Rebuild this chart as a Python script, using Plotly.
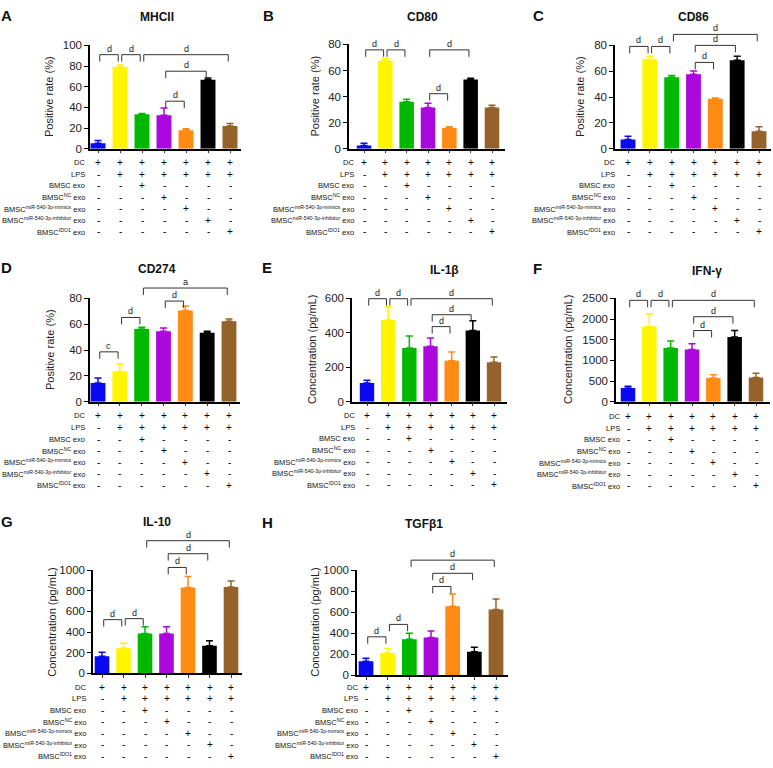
import plotly.graph_objects as go

W, H = 773, 768

# ---------------- data ----------------
bar_colors = ["#0A0AF0", "#FFF500", "#00B800", "#AA08DC", "#FF8A14", "#000000", "#94622A"]

row_labels = [
    "DC",
    "LPS",
    "BMSC exo",
    "BMSC<sup>NC</sup> exo",
    "BMSC<sup>miR-540-3p-mimics</sup> exo",
    "BMSC<sup>miR-540-3p-inhibitor</sup> exo",
    "BMSC<sup>IDO1</sup> exo",
]
sign_rows = [
    ["+", "+", "+", "+", "+", "+", "+"],
    ["-", "+", "+", "+", "+", "+", "+"],
    ["-", "-", "+", "-", "-", "-", "-"],
    ["-", "-", "-", "+", "-", "-", "-"],
    ["-", "-", "-", "-", "+", "-", "-"],
    ["-", "-", "-", "-", "-", "+", "-"],
    ["-", "-", "-", "-", "-", "-", "+"],
]

mhcii_mean = [5.4, 79.0, 33.3, 32.4, 18.0, 66.7, 22.0]
mhcii_top = [8.0, 81.0, 34.2, 39.5, 19.4, 68.4, 24.4]
cd80_mean = [2.5, 67.4, 36.1, 31.6, 15.9, 53.0, 31.6]
cd80_top = [4.3, 69.0, 37.9, 34.8, 16.9, 54.0, 33.3]
cd86_mean = [7.1, 69.3, 55.3, 57.6, 38.6, 68.5, 13.5]
cd86_top = [9.6, 71.6, 56.6, 60.2, 39.3, 71.6, 17.0]
cd274_mean = [14.5, 23.4, 56.3, 54.6, 70.6, 53.3, 62.2]
cd274_top = [18.3, 29.2, 57.6, 57.1, 74.1, 54.6, 64.0]
il1b_mean = [108, 474, 312, 322, 238, 413, 229]
il1b_top = [124, 552, 381, 370, 288, 470, 259]
ifng_mean = [333, 1817, 1302, 1262, 571, 1563, 587]
ifng_top = [373, 2119, 1468, 1405, 651, 1722, 690]
il10_mean = [167, 243, 385, 385, 830, 268, 836]
il10_top = [205, 293, 451, 451, 937, 315, 893]
tgfb1_mean = [134, 212, 344, 359, 656, 225, 625]
tgfb1_top = [162, 256, 400, 422, 772, 266, 725]

# significance brackets: (group i, group j, level, label)
sig_mhcii = [(0, 1, 91, "d"), (1, 2, 91, "d"), (2, 6, 91, "d"), (3, 5, 75, "d"), (3, 4, 46, "d")]
sig_cd80 = [(0, 1, 75.8, "d"), (1, 2, 75.8, "d"), (3, 5, 75.8, "d"), (3, 4, 42.2, "d")]
sig_cd86 = [(0, 1, 79.2, "d"), (1, 2, 79.2, "d"), (2, 6, 88.5, "d"), (3, 5, 80, "d"), (3, 4, 66.8, "d")]
sig_cd274 = [(0, 1, 38.6, "c"), (1, 2, 65.2, "d"), (3, 4, 77.9, "d"), (2, 6, 88, "a")]
sig_il1b = [(0, 1, 598, "d"), (1, 2, 598, "d"), (2, 6, 598, "d"), (3, 5, 505, "d"), (3, 4, 436, "d")]
sig_ifng = [(0, 1, 2452, "d"), (1, 2, 2452, "d"), (2, 6, 2452, "d"), (3, 5, 2056, "d"), (3, 4, 1722, "d")]
sig_il10 = [(0, 1, 520, "d"), (1, 2, 530, "d"), (3, 4, 1025, "d"), (3, 5, 1158, "d"), (2, 6, 1284, "d")]
sig_tgfb1 = [(0, 1, 366, "d"), (1, 2, 484, "d"), (3, 4, 844, "d"), (3, 5, 969, "d"), (2, 6, 1094, "d")]

# ---------------- layout geometry (pixels) ----------------
panels = [
    dict(title="MHCII", letter="A", mean=mhcii_mean, top=mhcii_top, sig=sig_mhcii, ymax=100, dtick=20,
         ytitle="Positive rate (%)", xl=90, c0=98, c6=230, xr=241, yb=145, yt=40,
         tx=157, ty=11, lx=7, ly=10, ytx=49, row0=159.3, labx=87),
    dict(title="CD80", letter="B", mean=cd80_mean, top=cd80_top, sig=sig_cd80, ymax=80, dtick=20,
         ytitle="Positive rate (%)", xl=349, c0=364, c6=492, xr=505, yb=145, yt=39,
         tx=423, ty=11, lx=268, ly=10, ytx=315, row0=159, labx=356),
    dict(title="CD86", letter="C", mean=cd86_mean, top=cd86_top, sig=sig_cd86, ymax=80, dtick=20,
         ytitle="Positive rate (%)", xl=615, c0=628, c6=759, xr=771, yb=145, yt=40,
         tx=693, ty=11, lx=538, ly=10, ytx=580, row0=159, labx=617),
    dict(title="CD274", letter="D", mean=cd274_mean, top=cd274_top, sig=sig_cd274, ymax=80, dtick=20,
         ytitle="Positive rate (%)", xl=90, c0=98, c6=229, xr=240, yb=402, yt=297,
         tx=157, ty=267, lx=7, ly=266, ytx=50, row0=416.5, labx=87),
    dict(title="IL-1β", letter="E", mean=il1b_mean, top=il1b_top, sig=sig_il1b, ymax=600, dtick=200,
         ytitle="Concentration (pg/mL)", xl=352, c0=367, c6=494, xr=507, yb=402, yt=297,
         tx=444, ty=268, lx=267, ly=266, ytx=312, row0=416, labx=357),
    dict(title="IFN-γ", letter="F", mean=ifng_mean, top=ifng_top, sig=sig_ifng, ymax=2500, dtick=500,
         ytitle="Concentration (pg/mL)", xl=616, c0=628, c6=756, xr=770, yb=402, yt=297,
         tx=707, ty=269, lx=537, ly=267, ytx=568, row0=417, labx=622),
    dict(title="IL-10", letter="G", mean=il10_mean, top=il10_top, sig=sig_il10, ymax=1000, dtick=200,
         ytitle="Concentration (pg/mL)", xl=93, c0=102, c6=231, xr=242, yb=678, yt=573,
         tx=157, ty=524, lx=7, ly=524, ytx=52, row0=692, labx=88),
    dict(title="TGFβ1", letter="H", mean=tgfb1_mean, top=tgfb1_top, sig=sig_tgfb1, ymax=1000, dtick=200,
         ytitle="Concentration (pg/mL)", xl=357, c0=366, c6=496, xr=508, yb=680, yt=573,
         tx=424, ty=526, lx=267, ly=525, ytx=315, row0=692, labx=360),
]

ROW_STEP = 11.7
FONT = "Liberation Sans, Arial, sans-serif"


def pxx(p):
    return p / W


def pxy(p):
    return 1 - p / H


fig = go.Figure()
layout = dict(
    width=W, height=H, margin=dict(l=0, r=0, t=0, b=0),
    paper_bgcolor="white", plot_bgcolor="white", barmode="overlay",
    showlegend=False, font=dict(family=FONT, color="#222"),
)
annotations = []
shapes = []

for k, P in enumerate(panels):
    n = k + 1
    xa = "x" if n == 1 else f"x{n}"
    ya = "y" if n == 1 else f"y{n}"
    xkey = "xaxis" if n == 1 else f"xaxis{n}"
    ykey = "yaxis" if n == 1 else f"yaxis{n}"
    sp = (P["c6"] - P["c0"]) / 6.0
    r0 = -(P["c0"] - P["xl"]) / sp
    r1 = 6 + (P["xr"] - P["c6"]) / sp
    plot_h = P["yb"] - P["yt"]

    for i in range(7):
        fig.add_trace(go.Bar(
            x=[i], y=[P["mean"][i]], width=0.68, xaxis=xa, yaxis=ya,
            marker=dict(color=bar_colors[i], line=dict(width=0)),
            error_y=dict(type="data", symmetric=False,
                         array=[P["top"][i] - P["mean"][i]], arrayminus=[0],
                         color=bar_colors[i], thickness=1.5, width=3.5),
            showlegend=False, hoverinfo="skip",
        ))

    layout[xkey] = dict(domain=[pxx(P["xl"]), pxx(P["xr"])], range=[r0, r1], anchor=ya,
                        showline=True, linecolor="black", linewidth=1.5,
                        tickmode="array", tickvals=list(range(7)), ticks="outside",
                        ticklen=3, tickwidth=1, tickcolor="#333",
                        showticklabels=False, showgrid=False, zeroline=False, fixedrange=True)
    layout[ykey] = dict(domain=[pxy(P["yb"]), pxy(P["yt"])], range=[0, P["ymax"]], anchor=xa,
                        tick0=0, dtick=P["dtick"], ticks="outside", ticklen=4, tickwidth=1.2,
                        tickcolor="black", showline=True, linecolor="black", linewidth=1.5,
                        showgrid=False, zeroline=False, fixedrange=True,
                        tickfont=dict(size=11.5, color="#222", family=FONT))

    # titles and letters
    annotations.append(dict(text=f"<b>{P['title']}</b>", xref="paper", yref="paper",
                            x=pxx(P["tx"]), y=pxy(P["ty"]), showarrow=False,
                            xanchor="center", yanchor="middle",
                            font=dict(size=12, color="#111", family=FONT)))
    annotations.append(dict(text=f"<b>{P['letter']}</b>", xref="paper", yref="paper",
                            x=pxx(P["lx"]), y=pxy(P["ly"]), showarrow=False,
                            xanchor="center", yanchor="middle",
                            font=dict(size=15, color="#111", family=FONT)))
    annotations.append(dict(text=P["ytitle"], xref="paper", yref="paper", textangle=-90,
                            x=pxx(P["ytx"]), y=pxy((P["yb"] + P["yt"]) / 2), showarrow=False,
                            xanchor="center", yanchor="middle",
                            font=dict(size=11, color="#222", family=FONT)))

    # treatment table
    for r, lab in enumerate(row_labels):
        yy = pxy(P["row0"] + r * ROW_STEP)
        annotations.append(dict(text=lab, xref="paper", yref="paper", x=pxx(P["labx"]), y=yy,
                                xanchor="right", yanchor="middle", showarrow=False,
                                font=dict(size=7.5, color="#111", family=FONT)))
        for i in range(7):
            annotations.append(dict(text=sign_rows[r][i], xref=xa, yref="paper", x=i, y=yy,
                                    xanchor="center", yanchor="middle", showarrow=False,
                                    font=dict(size=10, color="#000", family=FONT)))

    # significance brackets
    tick = 7.0 / plot_h
    for (i, j, lev, lab) in P["sig"]:
        xi = (i + 0.08 - r0) / (r1 - r0)
        xj = (j - 0.08 - r0) / (r1 - r0)
        yv = lev / P["ymax"]
        line = dict(color="#333", width=1)
        shapes.append(dict(type="path", xref=f"{xa} domain", yref=f"{ya} domain",
                           path=f"M {xi},{yv - tick} L {xi},{yv} L {xj},{yv} L {xj},{yv - tick}",
                           line=line))
        annotations.append(dict(text=lab, xref=f"{xa} domain", yref=f"{ya} domain",
                                x=(xi + xj) / 2, y=yv, xanchor="center", yanchor="bottom",
                                showarrow=False, yshift=0, borderpad=0,
                                font=dict(size=9, color="#222", family=FONT)))

layout["annotations"] = annotations
layout["shapes"] = shapes
fig.update_layout(**layout)
fig.write_html("out.html", config={"displayModeBar": False},
               post_script="document.body.style.margin='0';document.body.style.padding='0';")
